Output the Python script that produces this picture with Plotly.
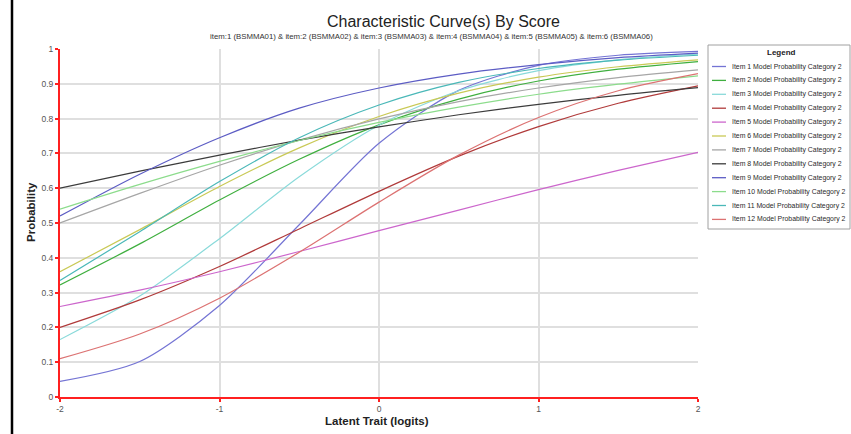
import plotly.graph_objects as go

# ---- data ----
theta = [-2, -1.5, -1, -0.5, 0, 0.5, 1, 1.5, 2]

item_names = [
    "Item 1 Model Probability Category 2",
    "Item 2 Model Probability Category 2",
    "Item 3 Model Probability Category 2",
    "Item 4 Model Probability Category 2",
    "Item 5 Model Probability Category 2",
    "Item 6 Model Probability Category 2",
    "Item 7 Model Probability Category 2",
    "Item 8 Model Probability Category 2",
    "Item 9 Model Probability Category 2",
    "Item 10 Model Probability Category 2",
    "Item 11 Model Probability Category 2",
    "Item 12 Model Probability Category 2",
]

item1 = [0.045, 0.102, 0.263, 0.495, 0.729, 0.881, 0.953, 0.982, 0.993]
item2 = [0.322, 0.440, 0.566, 0.683, 0.782, 0.856, 0.908, 0.942, 0.964]
item3 = [0.165, 0.290, 0.455, 0.633, 0.781, 0.880, 0.938, 0.969, 0.985]
item4 = [0.200, 0.279, 0.375, 0.483, 0.591, 0.692, 0.777, 0.844, 0.894]
item5 = [0.260, 0.307, 0.360, 0.418, 0.478, 0.537, 0.596, 0.651, 0.703]
item6 = [0.360, 0.481, 0.605, 0.716, 0.806, 0.873, 0.919, 0.949, 0.969]
item7 = [0.500, 0.585, 0.666, 0.738, 0.799, 0.849, 0.888, 0.918, 0.940]
item8 = [0.600, 0.649, 0.695, 0.738, 0.776, 0.811, 0.841, 0.867, 0.889]
item9 = [0.520, 0.640, 0.745, 0.830, 0.888, 0.928, 0.955, 0.975, 0.988]
item10 = [0.540, 0.611, 0.677, 0.737, 0.789, 0.833, 0.870, 0.899, 0.923]
item11 = [0.335, 0.475, 0.619, 0.745, 0.839, 0.904, 0.944, 0.968, 0.982]
item12 = [0.110, 0.181, 0.284, 0.416, 0.560, 0.695, 0.803, 0.880, 0.929]

series = [item1, item2, item3, item4, item5, item6,
          item7, item8, item9, item10, item11, item12]

colors = ["#7474D4", "#3FAF3F", "#8ADADA", "#B03A3A", "#CC66CC", "#C9C955",
          "#A6A6A6", "#3C3C3C", "#5C5CC4", "#8CDC8C", "#4AB8B8", "#DC7272"]

x_ticks = [-2, -1, 0, 1, 2]
x_tick_text = ["-2", "-1", "0", "1", "2"]
y_ticks = [0, 0.1, 0.2, 0.3, 0.4, 0.5, 0.6, 0.7, 0.8, 0.9, 1]
y_tick_text = ["0", "0.1", "0.2", "0.3", "0.4", "0.5", "0.6", "0.7", "0.8", "0.9", "1"]

title_text = "Characteristic Curve(s) By Score"
subtitle_text = ("item:1 (BSMMA01) & item:2 (BSMMA02) & item:3 (BSMMA03) & "
                 "item:4 (BSMMA04) & item:5 (BSMMA05) & item:6 (BSMMA06)")
x_title = "Latent Trait (logits)"
y_title = "Probability"

# ---- layout geometry (pixels) ----
W, H = 851, 434
L, R, T, B = 60, 698, 49, 397  # plot area edges in px
FONT = "Liberation Sans, Arial, sans-serif"


def xp(px):
    return (px - L) / (R - L)


def yp(py):
    return (B - py) / (B - T)


fig = go.Figure()
for name, vals, col in zip(item_names, series, colors):
    fig.add_trace(go.Scatter(
        x=theta, y=vals, mode="lines", name=name,
        line=dict(color=col, width=1.2, shape="spline", smoothing=0.8),
        showlegend=False,
    ))

shapes = []
annotations = []

# outer left frame line
shapes.append(dict(type="line", xref="paper", yref="paper",
                   x0=xp(12), x1=xp(12), y0=yp(0), y1=yp(H),
                   line=dict(color="#000000", width=2.5)))

# title + subtitle
annotations.append(dict(text=title_text, xref="paper", yref="paper",
                        x=xp(443), y=yp(22), showarrow=False,
                        xanchor="center", yanchor="middle",
                        font=dict(family=FONT, size=16, color="#222222")))
annotations.append(dict(text=subtitle_text, xref="paper", yref="paper",
                        x=xp(431), y=yp(37), showarrow=False,
                        xanchor="center", yanchor="middle",
                        font=dict(family=FONT, size=7.8, color="#333333")))

# axis titles
annotations.append(dict(text="<b>" + x_title + "</b>", xref="paper", yref="paper",
                        x=xp(377), y=yp(421), showarrow=False,
                        xanchor="center", yanchor="middle",
                        font=dict(family=FONT, size=11.5, color="#222222")))
annotations.append(dict(text="<b>" + y_title + "</b>", xref="paper", yref="paper",
                        x=xp(31), y=yp(212), showarrow=False, textangle=-90,
                        xanchor="center", yanchor="middle",
                        font=dict(family=FONT, size=11.5, color="#222222")))

# manual legend
lg_x0, lg_x1, lg_y0, lg_y1 = 708, 850, 45, 229
shapes.append(dict(type="rect", xref="paper", yref="paper",
                   x0=xp(lg_x0), x1=xp(lg_x1), y0=yp(lg_y1), y1=yp(lg_y0),
                   line=dict(color="#A0A0A0", width=1), fillcolor="#FFFFFF",
                   layer="above"))
annotations.append(dict(text="<b>Legend</b>", xref="paper", yref="paper",
                        x=xp(781), y=yp(53), showarrow=False,
                        xanchor="center", yanchor="middle",
                        font=dict(family=FONT, size=8, color="#222222")))
row0, step = 66.5, 13.9
for i, (name, col) in enumerate(zip(item_names, colors)):
    py = row0 + step * i
    shapes.append(dict(type="line", xref="paper", yref="paper",
                       x0=xp(712), x1=xp(726), y0=yp(py), y1=yp(py),
                       line=dict(color=col, width=1.3), layer="above"))
    annotations.append(dict(text=name, xref="paper", yref="paper",
                            x=xp(730), y=yp(py), showarrow=False,
                            xanchor="left", yanchor="middle",
                            font=dict(family=FONT, size=6.9, color="#2A2A2A")))

fig.update_layout(
    width=W, height=H,
    margin=dict(l=L, r=W - R, t=T, b=H - B, pad=0),
    paper_bgcolor="#FFFFFF", plot_bgcolor="#FFFFFF",
    shapes=shapes, annotations=annotations,
    showlegend=False,
    xaxis=dict(range=[-2, 2], tickvals=x_ticks, ticktext=x_tick_text,
               showgrid=True, gridcolor="#DFDFDF", gridwidth=1.5,
               zeroline=False, showline=True, linecolor="#FF2020", linewidth=2,
               ticks="outside", ticklen=3, tickwidth=2, tickcolor="#FF2020",
               tickfont=dict(family=FONT, size=8.5, color="#555555")),
    yaxis=dict(range=[0, 1], tickvals=y_ticks, ticktext=y_tick_text,
               showgrid=True, gridcolor="#DFDFDF", gridwidth=1.5,
               zeroline=False, showline=True, linecolor="#FF2020", linewidth=2,
               ticks="outside", ticklen=3, tickwidth=2, tickcolor="#FF2020",
               tickfont=dict(family=FONT, size=8.5, color="#555555")),
)

fig.write_html("out.html",
               config={"displayModeBar": False},
               post_script="document.body.style.margin='0px';"
                           "document.body.style.overflow='hidden';")
